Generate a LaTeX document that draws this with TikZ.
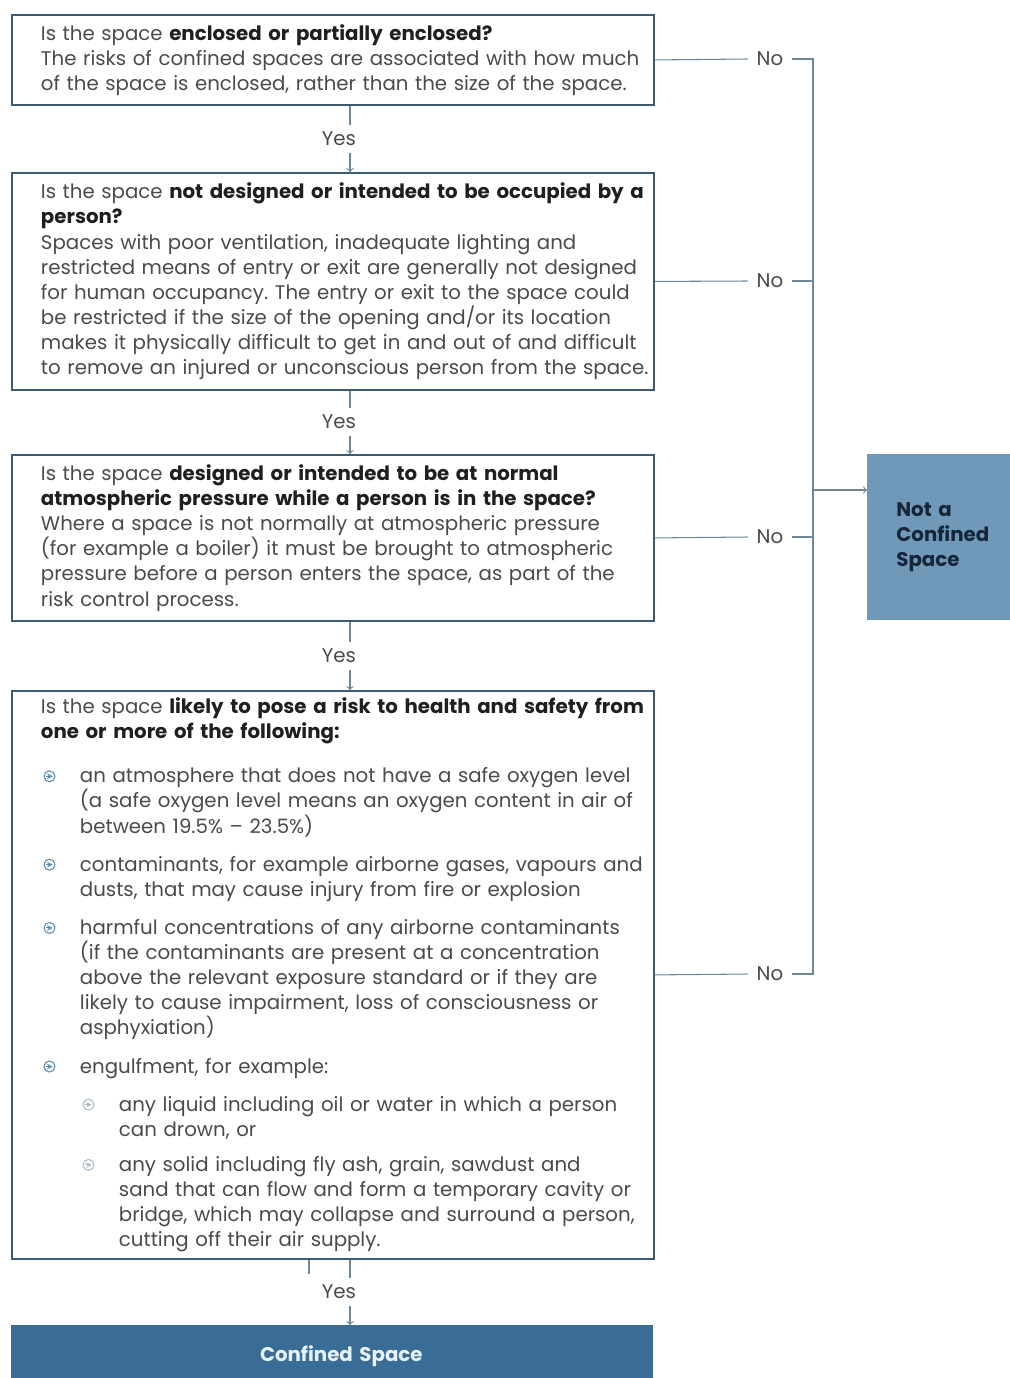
\documentclass[tikz,border=0pt]{standalone}
\usepackage{fontspec}
\setmainfont{Poppins}
\usepackage{tikz}
\usetikzlibrary{positioning,calc,arrows}
\frenchspacing

\definecolor{framecol}{HTML}{3E5A72}
\definecolor{linecol}{HTML}{6E8698}
\definecolor{txtcol}{HTML}{4A4A4A}
\definecolor{boldcol}{HTML}{1F1F1F}
\definecolor{notfill}{HTML}{7098B8}
\definecolor{notcol}{HTML}{16263A}
\definecolor{cfill}{HTML}{3A6D95}
\definecolor{cfont}{HTML}{E6F1F8}
\definecolor{bulcol}{HTML}{5B8BB0}
\definecolor{subcol}{HTML}{A8BCCC}

\newcommand{\qfont}{\fontsize{11.25pt}{14.3pt}\selectfont}
\newcommand{\hl}[1]{{\bfseries\color{boldcol}#1}}
\newcommand{\arrbul}[1]{\tikz[baseline=-0.6ex]{\draw[#1,line width=0.6pt] (0,0) circle (0.11cm); \draw[#1,line width=0.5pt,->,>=stealth] (-0.06cm,0) -- (0.065cm,0);}}
\newcommand{\bitem}{\makebox[0.78cm][l]{\hspace{0.05cm}\arrbul{bulcol}}}
\newcommand{\sitem}{\hspace*{0.78cm}\makebox[0.78cm][l]{\hspace{0.05cm}\arrbul{subcol}}}
\newcommand{\bind}{\hspace*{0.78cm}}
\newcommand{\sind}{\hspace*{1.56cm}}

\tikzstyle{question} = [draw=framecol, line width=1.1pt, text width=12.84cm, inner xsep=0pt, inner ysep=0pt, align=left, anchor=north west, text=txtcol, font=\qfont]
\tikzstyle{result} = [anchor=north west, inner sep=0pt, font=\qfont\bfseries]
\tikzstyle{answer} = [text=txtcol, font=\qfont, inner xsep=5pt, inner ysep=4pt]
\tikzstyle{link} = [draw=linecol, line width=0.6pt]
\tikzstyle{arrow} = [link, ->, >=to]

\begin{document}
\begin{tikzpicture}[x=0.02cm, y=-0.02cm]
    \useasboundingbox (0,0) rectangle (1009,1378);

    % Questions
    \node[question, minimum height=1.8cm] (b1) at (11,14) {\leftskip=0.58cm
        Is the space \hl{enclosed or partially enclosed?}\\
        The risks of confined spaces are associated with how much\\
        of the space is enclosed, rather than the size of the space.\par};
    \node[question, minimum height=4.34cm] (b2) at (11,172) {\leftskip=0.58cm
        Is the space \hl{not designed or intended to be occupied by a}\\
        \hl{person?}\\
        Spaces with poor ventilation, inadequate lighting and\\
        restricted means of entry or exit are generally not designed\\
        for human occupancy. The entry or exit to the space could\\
        be restricted if the size of the opening and/or its location\\
        makes it physically difficult to get in and out of and difficult\\
        to remove an injured or unconscious person from the space.\par};
    \node[question, minimum height=3.32cm] (b3) at (11,454) {\leftskip=0.58cm
        Is the space \hl{designed or intended to be at normal}\\
        \hl{atmospheric pressure while a person is in the space?}\\
        Where a space is not normally at atmospheric pressure\\
        (for example a boiler) it must be brought to atmospheric\\
        pressure before a person enters the space, as part of the\\
        risk control process.\par};
    \node[question, minimum height=11.36cm] (b4) at (11,690) {\leftskip=0.58cm
        Is the space \hl{likely to pose a risk to health and safety from}\\
        \hl{one or more of the following:}\\[0.38cm]
        \bitem an atmosphere that does not have a safe oxygen level\\
        \bind (a safe oxygen level means an oxygen content in air of\\
        \bind between 19.5\% – 23.5\%)\\[0.26cm]
        \bitem contaminants, for example airborne gases, vapours and\\
        \bind dusts, that may cause injury from fire or explosion\\[0.26cm]
        \bitem harmful concentrations of any airborne contaminants\\
        \bind (if the contaminants are present at a concentration\\
        \bind above the relevant exposure standard or if they are\\
        \bind likely to cause impairment, loss of consciousness or\\
        \bind asphyxiation)\\[0.26cm]
        \bitem engulfment, for example:\\[0.26cm]
        \sitem any liquid including oil or water in which a person\\
        \sind can drown, or\\[0.2cm]
        \sitem any solid including fly ash, grain, sawdust and\\
        \sind sand that can flow and form a temporary cavity or\\
        \sind bridge, which may collapse and surround a person,\\
        \sind cutting off their air supply.\par};

    % Results
    \node[result, fill=notfill, text=notcol, text width=3.2cm, minimum height=3.32cm, align=left] (notcs) at (867,454) {\leftskip=0.58cm
        Not a\\Confined\\Space\par};
    \node[result, fill=cfill, text=cfont, text width=12.84cm, minimum height=1.24cm, align=center] (cs) at (11,1325) {\hspace*{0.36cm}Confined Space};

    % Yes
    \coordinate (ax) at (350,0);
    \coordinate (bx) at (309,0);
    \node[answer] (yes1) at (339,139) {Yes};
    \node[answer] (yes2) at (339,422) {Yes};
    \node[answer] (yes3) at (339,656) {Yes};
    \node[answer] (yes4) at (339,1292) {Yes};
    \draw[link] (b1.south -| ax) -- (yes1.north -| ax);
    \draw[arrow] (yes1.south -| ax) -- (b2.north -| ax);
    \draw[link] (b2.south -| ax) -- (yes2.north -| ax);
    \draw[arrow] (yes2.south -| ax) -- (b3.north -| ax);
    \draw[link] (b3.south -| ax) -- (yes3.north -| ax);
    \draw[arrow] (yes3.south -| ax) -- (b4.north -| ax);
    \draw[link] (b4.south -| ax) -- (yes4.north -| ax);
    \draw[link] (b4.south -| bx) -- ($(yes4.north -| bx)+(0,-4)$);
    \draw[arrow] (yes4.south -| ax) -- (cs.north -| ax);

    % No
    \node[answer] (no1) at (770,59) {No};
    \node[answer] (no2) at (770,281) {No};
    \node[answer] (no3) at (770,537) {No};
    \node[answer] (no4) at (770,974) {No};
    \coordinate (rtop) at (813,59);
    \coordinate (rbot) at (813,974);
    \coordinate (tap) at (813,490);
    \draw[link] (b1.east) -- (no1.west);
    \draw[link] (b2.east) -- (no2.west);
    \draw[link] (b3.east) -- (no3.west);
    \draw[link] (b4.east) -- (no4.west);
    \draw[link] (no1.east) -- (rtop) -- (rbot) -- (no4.east);
    \draw[link] (no2.east) -- (no2.east -| rtop);
    \draw[link] (no3.east) -- (no3.east -| rtop);
    \draw[arrow] (tap) -- (tap -| notcs.west);
\end{tikzpicture}
\end{document}
